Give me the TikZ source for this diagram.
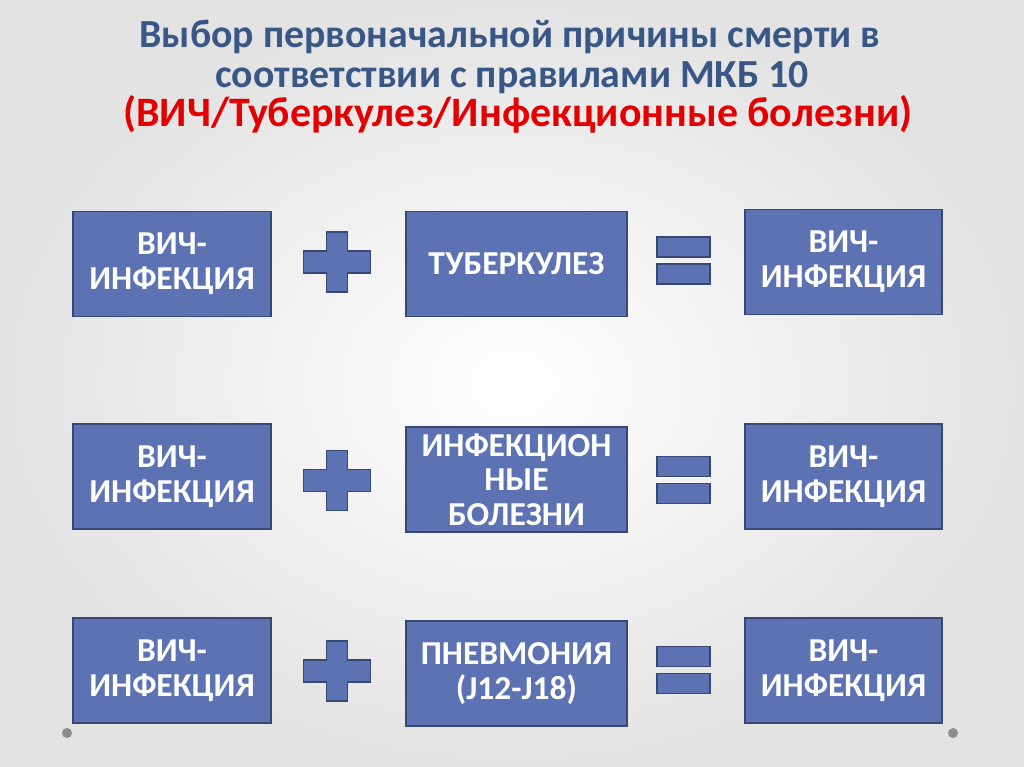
\documentclass[tikz,border=0pt]{standalone}
\usepackage{fontspec}
\setmainfont{Carlito}
\definecolor{boxfill}{RGB}{92,114,178}
\definecolor{boxline}{RGB}{56,72,118}
\definecolor{titleblue}{RGB}{56,86,134}
\definecolor{titlered}{RGB}{228,0,0}
\begin{document}
\begin{tikzpicture}[x=0.025cm,y=-0.025cm,
    title/.style={anchor=base,font=\fontsize{28.3}{30}\selectfont\bfseries},
    box/.style={draw=boxline,line width=1.2pt,fill=boxfill,text=white,
        align=center,inner sep=0pt,minimum height=2.62cm,
        font=\fontsize{23.8}{24.6}\selectfont\bfseries},
    sign/.style={draw=boxline,line width=1.4pt,fill=boxfill}]
    %% Background
    \useasboundingbox (0,0) rectangle (1024,767);
    \shade[inner color=white,outer color=black!11] (0,0) rectangle (1024,767);
    %% Title
    \node[title,text=titleblue] (T1) at (510,48) {Выбор первоначальной причины смерти в};
    \node[title,text=titleblue] (T2) at (512,87.5) {соответствии с правилами МКБ 10};
    \node[title,text=titlered,font=\fontsize{29.8}{30}\selectfont\bfseries] (T3) at (518,127)
        {(ВИЧ/Туберкулез/Инфекционные болезни)};
    %% Row 1
    \node[box,minimum width=4.95cm] (A1) at (172,264) {ВИЧ-\\ИНФЕКЦИЯ};
    \node[box,minimum width=5.52cm] (B1) at (516.5,264) {ТУБЕРКУЛЕЗ};
    \node[box,minimum width=4.92cm] (C1) at (843.5,262) {ВИЧ-\\ИНФЕКЦИЯ};
    %% Row 2
    \node[box,minimum width=4.95cm] (A2) at (172,476.5) {ВИЧ-\\ИНФЕКЦИЯ};
    \node[box,minimum width=5.52cm] (B2) at (516.5,479.5) {ИНФЕКЦИОН\\НЫЕ\\БОЛЕЗНИ};
    \node[box,minimum width=4.92cm] (C2) at (843.5,476.5) {ВИЧ-\\ИНФЕКЦИЯ};
    %% Row 3
    \node[box,minimum width=4.95cm] (A3) at (172,670.5) {ВИЧ-\\ИНФЕКЦИЯ};
    \node[box,minimum width=5.52cm] (B3) at (516.5,673.5) {ПНЕВМОНИЯ\\(J12-J18)};
    \node[box,minimum width=4.92cm] (C3) at (843.5,670.5) {ВИЧ-\\ИНФЕКЦИЯ};
    %% Plus signs
    \foreach \py in {262,480.5,671}
        \draw[sign] (326.5,\py-30) -- ++(21,0) -- ++(0,19) -- ++(23,0) -- ++(0,22)
            -- ++(-23,0) -- ++(0,19) -- ++(-21,0) -- ++(0,-19) -- ++(-23,0)
            -- ++(0,-22) -- ++(23,0) -- cycle;
    %% Equal signs
    \foreach \ey in {247,466.5,656.5}{
        \draw[sign] (657,\ey-10) rectangle ++(53,20);
        \draw[sign] (657,\ey+17) rectangle ++(53,20);
    }
    %% Dots
    \fill[black!45] (67,733) circle (5);
    \fill[black!45] (953,733) circle (5);
\end{tikzpicture}
\end{document}
